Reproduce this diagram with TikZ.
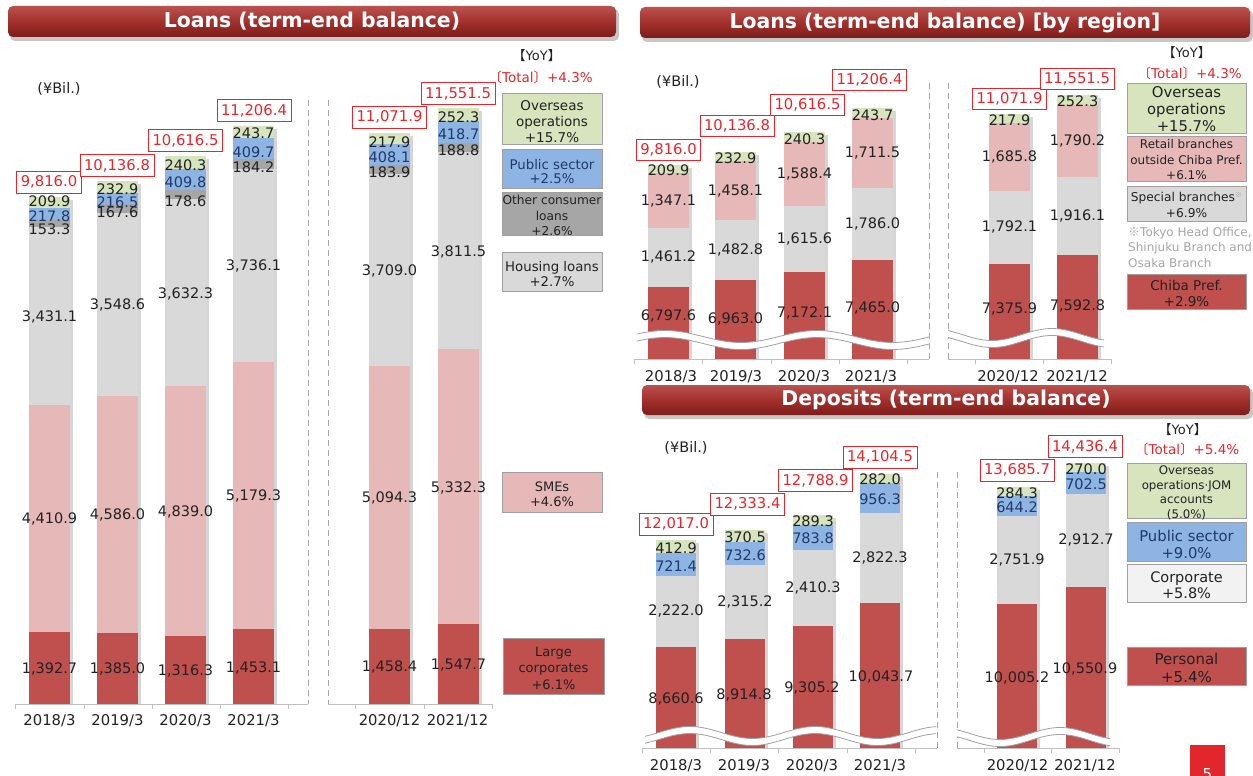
\documentclass[tikz,border=0pt]{standalone}
\usepackage{fontspec}
\setmainfont{DejaVu Sans}
\newfontfamily\cjk{Noto Sans CJK JP}
\usetikzlibrary{calc}
\definecolor{cRed}{HTML}{C0504D}
\definecolor{cPink}{HTML}{E6B9B8}
\definecolor{cLGray}{HTML}{D9D9D9}
\definecolor{cVLGray}{HTML}{F2F2F2}
\definecolor{cDGray}{HTML}{A6A6A6}
\definecolor{cBlue}{HTML}{8DB4E2}
\definecolor{cGreen}{HTML}{D7E4BD}
\definecolor{cTot}{HTML}{E8252B}
\definecolor{cNavy}{HTML}{1F3A6B}
\definecolor{cText}{HTML}{222222}
\definecolor{cNote}{HTML}{A6A6A6}
\definecolor{cBorder}{HTML}{A0A0A0}
\definecolor{cAxis}{HTML}{BFBFBF}
\definecolor{cDash}{HTML}{A6A6A6}
\definecolor{cWave}{HTML}{A0A0A0}
\definecolor{cTitle}{HTML}{A3302C}
\definecolor{cTitleTop}{HTML}{BA524E}
\definecolor{cTitleBot}{HTML}{7C1D1A}
\definecolor{cPage}{HTML}{E3262C}
\newcommand\fsz[1]{\fontsize{#1}{#1}\selectfont}
\newcommand\setchart[4]{\gdef\yzero{#1}\gdef\kk{#2}\gdef\barbot{#3}\gdef\barw{#4}}
\newcommand\startbar[1]{\gdef\cumv{0}\gdef\barx{#1}}
\newcommand\mkbase[3]{%
  \pgfmathsetmacro\segyb{\yzero-\kk*#1}%
  \fill[#2] (\barx,\barbot) rectangle ({\barx+\barw},\segyb);%
  \coordinate (#3) at ({\barx+\barw/2},\segyb);%
  \xdef\cumv{#1}\xdef\segtop{\segyb}}
\newcommand\mkseg[3]{%
  \pgfmathsetmacro\segya{\yzero-\kk*\cumv}%
  \pgfmathsetmacro\segcum{\cumv+#1}%
  \pgfmathsetmacro\segyb{\yzero-\kk*\segcum}%
  \pgfmathsetmacro\segym{(\segya+\segyb)/2}%
  \fill[#2] (\barx,\segya) rectangle ({\barx+\barw},\segyb);%
  \coordinate (#3) at ({\barx+\barw/2},\segym);%
  \xdef\cumv{\segcum}\xdef\segtop{\segyb}}
\newcommand\barshadow{\fill[black,opacity=0.16] ({\barx+\barw},{\segtop+3}) rectangle ({\barx+\barw+3},\barbot);}
\newcommand\titlebar[6]{%
  \fill[black,opacity=0.22,rounded corners=5pt] ({#1+2},{#2+3}) rectangle ({#3+3},{#4+4});
  \shade[rounded corners=5pt,top color=cTitleTop,bottom color=cTitleBot,middle color=cTitle] (#1,#2) rectangle (#3,#4);
  \node[titletext] (#5) at ({(#1+#3)/2},{(#2+#4)/2}) {#6};}
\newcommand\wave[5]{% x1 x2 yc xpeak period
  \fill[white] plot[domain=#1:#2,samples=70,smooth] (\x,{#3-6*cos((\x-#4)/#5*360)-3.5}) -- plot[domain=#2:#1,samples=70,smooth] (\x,{#3-6*cos((\x-#4)/#5*360)+3.5}) -- cycle;
  \draw[cWave,line width=0.8pt] plot[domain=#1:#2,samples=70,smooth] (\x,{#3-6*cos((\x-#4)/#5*360)-3.5});
  \draw[cWave,line width=0.8pt] plot[domain=#1:#2,samples=70,smooth] (\x,{#3-6*cos((\x-#4)/#5*360)+3.5});}
\newcommand\yoytext{{\cjk\hspace{-0.5em}【}YoY{\cjk】\hspace{-0.5em}}}
\newcommand\totaltext[1]{{\cjk\hspace{-0.5em}〔}Total{\cjk〕}#1}
\tikzset{
  vlab/.style={text=cText,font=\fsz{14.5},inner sep=0pt},
  nlab/.style={vlab,text=cNavy},
  totbox/.style={draw=cTot,line width=0.9pt,fill=white,text=cTot,font=\fsz{14.8},inner xsep=4pt,inner ysep=0pt,minimum height=22pt},
  catlab/.style={text=cText,font=\fsz{14.8},inner sep=0pt},
  legbox/.style={draw=cBorder,line width=0.8pt,inner sep=0pt},
  legtext/.style={align=center,inner sep=0pt,text=cText},
  titletext/.style={text=white,font=\fontsize{20.4}{22}\selectfont\bfseries,inner sep=0pt},
  dashsep/.style={draw=cDash,line width=1pt,dash pattern=on 6pt off 4pt},
  axisline/.style={draw=cAxis,line width=1pt},
  unitlab/.style={text=cText,font=\fsz{14.5},inner sep=0pt},
  yoylab/.style={text=cText,font=\fsz{13},inner sep=0pt},
  totlab/.style={text=cTot,font=\fsz{13.5},inner sep=0pt}
}
\begin{document}
\begin{tikzpicture}[x=1pt,y=-1pt]
\useasboundingbox (0,0) rectangle (1253,776);
\fill[white] (0,0) rectangle (1253,776);

% ---------- titles
\titlebar{8}{6}{616}{37}{T1}{Loans (term-end balance)}
\titlebar{640}{7}{1250}{38}{T2}{Loans (term-end balance) [by region]}
\titlebar{642}{385}{1250}{415}{T3}{Deposits (term-end balance)}

% ---------- LEFT CHART: loans
\draw[dashsep] (308,100) -- (308,704);
\draw[dashsep] (328,100) -- (328,704);
\draw[axisline] (15,704) -- (308,704);
\draw[axisline] (328,704) -- (492,704);
\foreach \t in {15,84,152,220,288,355,424,492} \draw[axisline] (\t,704) -- (\t,709);

\setchart{704}{0.0516}{704}{41}
\startbar{29}\mkseg{1392.7}{cRed}{a1}\mkseg{4410.9}{cPink}{a2}\mkseg{3431.1}{cLGray}{a3}\mkseg{153.3}{cDGray}{a4}\mkseg{217.8}{cBlue}{a5}\mkseg{209.9}{cGreen}{a6}\barshadow
\startbar{97}\mkseg{1385.0}{cRed}{b1}\mkseg{4586.0}{cPink}{b2}\mkseg{3548.6}{cLGray}{b3}\mkseg{167.6}{cDGray}{b4}\mkseg{216.5}{cBlue}{b5}\mkseg{232.9}{cGreen}{b6}\barshadow
\startbar{165}\mkseg{1316.3}{cRed}{c1}\mkseg{4839.0}{cPink}{c2}\mkseg{3632.3}{cLGray}{c3}\mkseg{178.6}{cDGray}{c4}\mkseg{409.8}{cBlue}{c5}\mkseg{240.3}{cGreen}{c6}\barshadow
\startbar{233}\mkseg{1453.1}{cRed}{d1}\mkseg{5179.3}{cPink}{d2}\mkseg{3736.1}{cLGray}{d3}\mkseg{184.2}{cDGray}{d4}\mkseg{409.7}{cBlue}{d5}\mkseg{243.7}{cGreen}{d6}\barshadow
\startbar{369}\mkseg{1458.4}{cRed}{e1}\mkseg{5094.3}{cPink}{e2}\mkseg{3709.0}{cLGray}{e3}\mkseg{183.9}{cDGray}{e4}\mkseg{408.1}{cBlue}{e5}\mkseg{217.9}{cGreen}{e6}\barshadow
\startbar{438}\mkseg{1547.7}{cRed}{f1}\mkseg{5332.3}{cPink}{f2}\mkseg{3811.5}{cLGray}{f3}\mkseg{188.8}{cDGray}{f4}\mkseg{418.7}{cBlue}{f5}\mkseg{252.3}{cGreen}{f6}\barshadow

\node[vlab] (ta1) at ($(a1)+(0,1)$) {1,392.7};
\node[vlab] (ta2) at ($(a2)+(0,1)$) {4,410.9};
\node[vlab] (ta3) at ($(a3)+(0,1)$) {3,431.1};
\node[vlab] (ta6) at (49.5,201) {209.9};
\node[nlab] (ta5) at (49.5,216) {217.8};
\node[vlab] (ta4) at (49.5,229) {153.3};
\node[vlab] (tb1) at ($(b1)+(0,1)$) {1,385.0};
\node[vlab] (tb2) at ($(b2)+(0,1)$) {4,586.0};
\node[vlab] (tb3) at ($(b3)+(0,1)$) {3,548.6};
\node[vlab] (tb6) at (117.5,189) {232.9};
\node[nlab] (tb5) at (117.5,202) {216.5};
\node[vlab] (tb4) at (117.5,212) {167.6};
\node[vlab] (tc1) at ($(c1)+(0,1)$) {1,316.3};
\node[vlab] (tc2) at ($(c2)+(0,1)$) {4,839.0};
\node[vlab] (tc3) at ($(c3)+(0,1)$) {3,632.3};
\node[vlab] (tc6) at (185.5,165) {240.3};
\node[nlab] (tc5) at (185.5,182) {409.8};
\node[vlab] (tc4) at (185.5,201) {178.6};
\node[vlab] (td1) at ($(d1)+(0,1)$) {1,453.1};
\node[vlab] (td2) at ($(d2)+(0,1)$) {5,179.3};
\node[vlab] (td3) at ($(d3)+(0,1)$) {3,736.1};
\node[vlab] (td6) at (253.5,133) {243.7};
\node[nlab] (td5) at (253.5,152) {409.7};
\node[vlab] (td4) at (253.5,167) {184.2};
\node[vlab] (te1) at ($(e1)+(0,1)$) {1,458.4};
\node[vlab] (te2) at ($(e2)+(0,1)$) {5,094.3};
\node[vlab] (te3) at ($(e3)+(0,1)$) {3,709.0};
\node[vlab] (te6) at (389.5,142) {217.9};
\node[nlab] (te5) at (389.5,157) {408.1};
\node[vlab] (te4) at (389.5,172) {183.9};
\node[vlab] (tf1) at ($(f1)+(0,1)$) {1,547.7};
\node[vlab] (tf2) at ($(f2)+(0,1)$) {5,332.3};
\node[vlab] (tf3) at ($(f3)+(0,1)$) {3,811.5};
\node[vlab] (tf6) at (458.5,117) {252.3};
\node[nlab] (tf5) at (458.5,134) {418.7};
\node[vlab] (tf4) at (458.5,150) {188.8};

\node[totbox] (sa) at (49,182) {9,816.0};
\node[totbox] (sb) at (117,165.5) {10,136.8};
\node[totbox] (sc) at (185.5,140.5) {10,616.5};
\node[totbox] (sd) at (254,110.5) {11,206.4};
\node[totbox] (se) at (389.5,117) {11,071.9};
\node[totbox] (sf) at (458,93.5) {11,551.5};

\node[catlab] (ca) at (49.5,721) {2018/3};
\node[catlab] (cb) at (117.5,721) {2019/3};
\node[catlab] (cc) at (185.5,721) {2020/3};
\node[catlab] (cd) at (253.5,721) {2021/3};
\node[catlab] (ce) at (389.5,721) {2020/12};
\node[catlab] (cf) at (457.5,721) {2021/12};

\node[unitlab] (uL) at (59,89) {(¥Bil.)};
\node[yoylab] (yL) at (540,56) {\yoytext};
\node[totlab] (tL) at (544,77) {\totaltext{+4.3\%}};

\node[legbox,fill=cGreen,minimum width=100pt,minimum height=51pt] (L1) at (552,118.5) {};
\node[legtext,font=\fontsize{13.5}{15.8}\selectfont] (L1t) at (552,121.5) {Overseas\\operations\\+15.7\%};
\node[legbox,fill=cBlue,minimum width=100pt,minimum height=39pt] (L2) at (552,168.5) {};
\node[legtext,text=cNavy,font=\fontsize{13.3}{14.5}\selectfont] (L2t) at (552,171.5) {Public sector\\+2.5\%};
\node[legbox,fill=cDGray,minimum width=100pt,minimum height=43pt] (L3) at (552,213.5) {};
\node[legtext,font=\fontsize{12.2}{15.5}\selectfont] (L3t) at (552,215.5) {Other consumer\\loans\\+2.6\%};
\node[legbox,fill=cLGray,minimum width=100pt,minimum height=39pt] (L4) at (552,271.5) {};
\node[legtext,font=\fontsize{13.3}{14.5}\selectfont] (L4t) at (552,274) {Housing loans\\+2.7\%};
\node[legbox,fill=cPink,minimum width=100pt,minimum height=40pt] (L5) at (552,492) {};
\node[legtext,font=\fontsize{13}{15}\selectfont] (L5t) at (552,494.5) {SMEs\\+4.6\%};
\node[legbox,fill=cRed,minimum width=101pt,minimum height=56pt] (L6) at (553.5,666) {};
\node[legtext,font=\fontsize{13}{16.5}\selectfont] (L6t) at (553.5,668) {Large\\corporates\\+6.1\%};

% ---------- RIGHT TOP: loans by region
\draw[dashsep] (929,83) -- (929,359);
\draw[dashsep] (948,83) -- (948,359);
\draw[axisline] (634,359) -- (929,359);
\draw[axisline] (948,359) -- (1111,359);
\foreach \t in {634,702,771,839,907,975,1043,1111} \draw[axisline] (\t,359) -- (\t,364);

\setchart{562.3}{0.0405}{359}{41}
\startbar{648}\mkbase{6797.6}{cRed}{g1}\mkseg{1461.2}{cLGray}{g2}\mkseg{1347.1}{cPink}{g3}\mkseg{209.9}{cGreen}{g4}\barshadow
\startbar{715}\mkbase{6963.0}{cRed}{h1}\mkseg{1482.8}{cLGray}{h2}\mkseg{1458.1}{cPink}{h3}\mkseg{232.9}{cGreen}{h4}\barshadow
\startbar{784}\mkbase{7172.1}{cRed}{i1}\mkseg{1615.6}{cLGray}{i2}\mkseg{1588.4}{cPink}{i3}\mkseg{240.3}{cGreen}{i4}\barshadow
\startbar{852}\mkbase{7465.0}{cRed}{j1}\mkseg{1786.0}{cLGray}{j2}\mkseg{1711.5}{cPink}{j3}\mkseg{243.7}{cGreen}{j4}\barshadow
\startbar{989}\mkbase{7375.9}{cRed}{k1}\mkseg{1792.1}{cLGray}{k2}\mkseg{1685.8}{cPink}{k3}\mkseg{217.9}{cGreen}{k4}\barshadow
\startbar{1057}\mkbase{7592.8}{cRed}{m1}\mkseg{1916.1}{cLGray}{m2}\mkseg{1790.2}{cPink}{m3}\mkseg{252.3}{cGreen}{m4}\barshadow

\wave{637}{929}{340}{665}{152}
\wave{948}{1104}{338}{1052}{120}

\node[vlab] (tg1) at (668.5,316) {6,797.6};
\node[vlab] (tg2) at (g2) {1,461.2};
\node[vlab] (tg3) at (g3) {1,347.1};
\node[vlab] (tg4) at ($(g4)+(0,1.5)$) {209.9};
\node[vlab] (th1) at (735.5,319) {6,963.0};
\node[vlab] (th2) at (h2) {1,482.8};
\node[vlab] (th3) at (h3) {1,458.1};
\node[vlab] (th4) at ($(h4)+(0,1.5)$) {232.9};
\node[vlab] (ti1) at (804.5,313) {7,172.1};
\node[vlab] (ti2) at (i2) {1,615.6};
\node[vlab] (ti3) at (i3) {1,588.4};
\node[vlab] (ti4) at ($(i4)+(0,1.5)$) {240.3};
\node[vlab] (tj1) at (872.5,308) {7,465.0};
\node[vlab] (tj2) at (j2) {1,786.0};
\node[vlab] (tj3) at (j3) {1,711.5};
\node[vlab] (tj4) at ($(j4)+(0,1.5)$) {243.7};
\node[vlab] (tk1) at (1009.5,309) {7,375.9};
\node[vlab] (tk2) at (k2) {1,792.1};
\node[vlab] (tk3) at (k3) {1,685.8};
\node[vlab] (tk4) at ($(k4)+(0,1.5)$) {217.9};
\node[vlab] (tm1) at (1077.5,306) {7,592.8};
\node[vlab] (tm2) at (m2) {1,916.1};
\node[vlab] (tm3) at (m3) {1,790.2};
\node[vlab] (tm4) at ($(m4)+(0,1.5)$) {252.3};

\node[totbox,minimum height=21pt] (sg) at (668.5,149.5) {9,816.0};
\node[totbox,minimum height=21pt] (sh) at (737,126) {10,136.8};
\node[totbox,minimum height=21pt] (si) at (807.5,104.5) {10,616.5};
\node[totbox,minimum height=21pt] (sj) at (869.5,79.5) {11,206.4};
\node[totbox,minimum height=21pt] (sk) at (1009.5,99) {11,071.9};
\node[totbox,minimum height=21pt] (sm) at (1077,78.5) {11,551.5};

\node[catlab] (cg) at (671,377) {2018/3};
\node[catlab] (ch) at (736,377) {2019/3};
\node[catlab] (ci) at (804,377) {2020/3};
\node[catlab] (cj) at (871,377) {2021/3};
\node[catlab] (ck) at (1008,377) {2020/12};
\node[catlab] (cm) at (1077,377) {2021/12};

\node[unitlab] (uR) at (678,82) {(¥Bil.)};
\node[yoylab] (yR) at (1190,53) {\yoytext};
\node[totlab] (tR) at (1193,73) {\totaltext{+4.3\%}};

\node[legbox,fill=cGreen,minimum width=119pt,minimum height=50pt] (R1) at (1186.5,108) {};
\node[legtext,font=\fontsize{14.8}{17}\selectfont] (R1t) at (1186.5,109.5) {Overseas\\operations\\+15.7\%};
\node[legbox,fill=cPink,minimum width=119pt,minimum height=45pt] (R2) at (1186.5,158.5) {};
\node[legtext,font=\fontsize{12}{15.5}\selectfont] (R2t) at (1186.5,160) {Retail branches\\outside Chiba Pref.\\+6.1\%};
\node[legbox,fill=cLGray,minimum width=119pt,minimum height=35pt] (R3) at (1186.5,203.5) {};
\node[legtext,font=\fontsize{12.2}{16}\selectfont] (R3t) at (1186.5,205) {Special branches{\color{cNote}\cjk\fsz{7}\raisebox{4pt}{※}}\\+6.9\%};
\node[text=cNote,align=left,inner sep=0pt,anchor=west,font=\fontsize{12}{15.5}\selectfont] (note) at (1128,247.5) {{\cjk ※}Tokyo Head Office,\\Shinjuku Branch and\\Osaka Branch};
\node[legbox,fill=cRed,minimum width=119pt,minimum height=35pt] (R4) at (1186.5,291.5) {};
\node[legtext,font=\fontsize{13.5}{16}\selectfont] (R4t) at (1186.5,293) {Chiba Pref.\\+2.9\%};

% ---------- RIGHT BOTTOM: deposits
\draw[dashsep] (937,472) -- (937,748);
\draw[dashsep] (957,472) -- (957,748);
\draw[axisline] (642,748) -- (937,748);
\draw[axisline] (957,748) -- (1119,748);
\foreach \t in {642,710,778,847,915,984,1051,1119} \draw[axisline] (\t,748) -- (\t,753);

\setchart{922.1}{0.0318}{748}{40}
\startbar{656}\mkbase{8660.6}{cRed}{p1}\mkseg{2222.0}{cLGray}{p2}\mkseg{721.4}{cBlue}{p3}\mkseg{412.9}{cGreen}{p4}\barshadow
\startbar{725}\mkbase{8914.8}{cRed}{q1}\mkseg{2315.2}{cLGray}{q2}\mkseg{732.6}{cBlue}{q3}\mkseg{370.5}{cGreen}{q4}\barshadow
\startbar{793}\mkbase{9305.2}{cRed}{r1}\mkseg{2410.3}{cLGray}{r2}\mkseg{783.8}{cBlue}{r3}\mkseg{289.3}{cGreen}{r4}\barshadow
\startbar{860}\mkbase{10043.7}{cRed}{s1}\mkseg{2822.3}{cLGray}{s2}\mkseg{956.3}{cBlue}{s3}\mkseg{282.0}{cGreen}{s4}\barshadow
\startbar{997}\mkbase{10005.2}{cRed}{u1}\mkseg{2751.9}{cLGray}{u2}\mkseg{644.2}{cBlue}{u3}\mkseg{284.3}{cGreen}{u4}\barshadow
\startbar{1066}\mkbase{10550.9}{cRed}{v1}\mkseg{2912.7}{cLGray}{v2}\mkseg{702.5}{cBlue}{v3}\mkseg{270.0}{cGreen}{v4}\barshadow

\wave{645}{936}{736}{690}{125}
\wave{957}{1110}{737}{1060}{120}

\node[vlab] (tp1) at (676,699) {8,660.6};
\node[vlab] (tp2) at (p2) {2,222.0};
\node[nlab] (tp3) at ($(p3)+(0,1.5)$) {721.4};
\node[vlab] (tp4) at ($(p4)+(0,1.5)$) {412.9};
\node[vlab] (tq1) at (744,695) {8,914.8};
\node[vlab] (tq2) at (q2) {2,315.2};
\node[nlab] (tq3) at ($(q3)+(0,1.5)$) {732.6};
\node[vlab] (tq4) at ($(q4)+(0,1.5)$) {370.5};
\node[vlab] (tr1) at (812,688) {9,305.2};
\node[vlab] (tr2) at (r2) {2,410.3};
\node[nlab] (tr3) at ($(r3)+(0,1.5)$) {783.8};
\node[vlab] (tr4) at ($(r4)+(0,1.5)$) {289.3};
\node[vlab] (ts1) at (881,677) {10,043.7};
\node[vlab] (ts2) at (s2) {2,822.3};
\node[nlab] (ts3) at ($(s3)+(0,1.5)$) {956.3};
\node[vlab] (ts4) at ($(s4)+(0,1.5)$) {282.0};
\node[vlab] (tu1) at (1017,678) {10,005.2};
\node[vlab] (tu2) at (u2) {2,751.9};
\node[nlab] (tu3) at ($(u3)+(0,1.5)$) {644.2};
\node[vlab] (tu4) at ($(u4)+(0,1.5)$) {284.3};
\node[vlab] (tv1) at (1085,669) {10,550.9};
\node[vlab] (tv2) at (v2) {2,912.7};
\node[nlab] (tv3) at ($(v3)+(0,1.5)$) {702.5};
\node[vlab] (tv4) at ($(v4)+(0,1.5)$) {270.0};

\node[totbox] (sp) at (676,524) {12,017.0};
\node[totbox] (sq) at (747.5,504) {12,333.4};
\node[totbox] (sr) at (815.5,480.5) {12,788.9};
\node[totbox] (ss) at (880,457) {14,104.5};
\node[totbox] (su) at (1017,470) {13,685.7};
\node[totbox] (sv) at (1085,446.5) {14,436.4};

\node[catlab] (cp) at (676,766) {2018/3};
\node[catlab] (cq) at (744,766) {2019/3};
\node[catlab] (cr) at (812,766) {2020/3};
\node[catlab] (cs) at (880,766) {2021/3};
\node[catlab] (cu) at (1017.5,766) {2020/12};
\node[catlab] (cv) at (1085,766) {2021/12};

\node[unitlab] (uD) at (686,448) {(¥Bil.)};
\node[yoylab] (yD) at (1186,430) {\yoytext};
\node[totlab] (tD) at (1190.5,449) {\totaltext{+5.4\%}};

\node[legbox,fill=cGreen,minimum width=119pt,minimum height=55pt] (D1) at (1186.5,490.5) {};
\node[legtext,font=\fontsize{11.8}{14.5}\selectfont] (D1t) at (1186.5,493) {Overseas\\operations·JOM\\accounts\\(5.0\%)};
\node[legbox,fill=cBlue,minimum width=119pt,minimum height=39pt] (D2) at (1186.5,541.5) {};
\node[legtext,text=cNavy,font=\fontsize{14.8}{17}\selectfont] (D2t) at (1186.5,544) {Public sector\\+9.0\%};
\node[legbox,fill=cVLGray,minimum width=119pt,minimum height=38pt] (D3) at (1186.5,583) {};
\node[legtext,font=\fontsize{14.5}{15.5}\selectfont] (D3t) at (1186.5,585) {Corporate\\+5.8\%};
\node[legbox,fill=cRed,minimum width=119pt,minimum height=38pt] (D4) at (1186.5,666) {};
\node[legtext,font=\fontsize{15}{18}\selectfont] (D4t) at (1186.5,667.5) {Personal\\+5.4\%};

% ---------- page number
\fill[cPage] (1190,745) rectangle (1225,790);
\node[text=white,font=\fsz{15},inner sep=0pt,anchor=base] (pg) at (1207.5,779) {5};
\end{tikzpicture}
\end{document}
